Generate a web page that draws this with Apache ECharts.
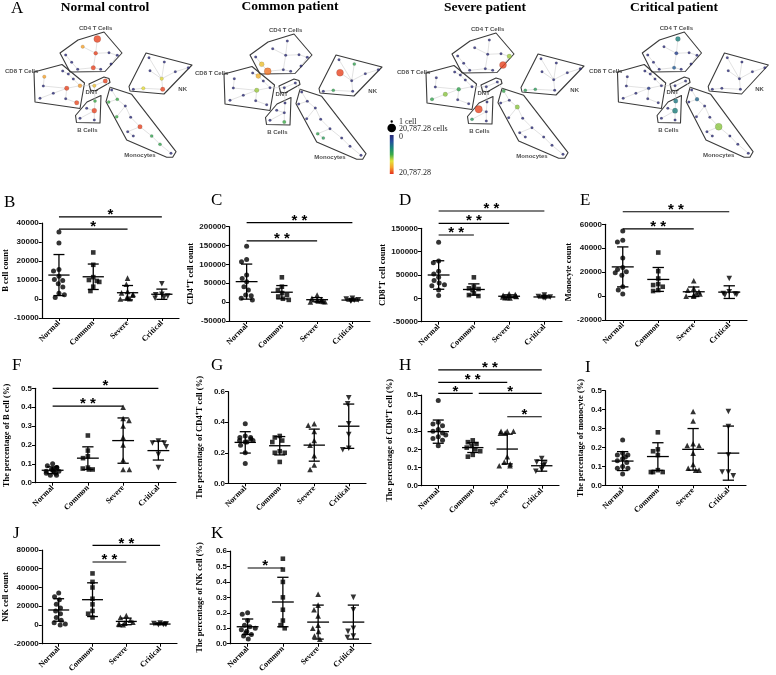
<!DOCTYPE html>
<html>
<head>
<meta charset="utf-8">
<script src="https://cdn.jsdelivr.net/npm/echarts@6.0.0/dist/echarts.min.js"></script>
<style>
html,body{margin:0;padding:0;background:#ffffff;}
#chart{width:776px;height:675px;}
</style>
</head>
<body>
<div id="chart"></div>
<script>
// ================= DATA =================
const groups = ['Normal', 'Common', 'Severe', 'Critical'];

// ---- Panel A : SPADE trees ----
const netTitles = ['Normal control', 'Common patient', 'Severe patient', 'Critical patient'];
const clusterNames = ['CD4 T Cells', 'CD8 T Cells', 'DNT', 'B Cells', 'NK', 'Monocytes'];
const nodeX = [97.3,82.7,95.7,65.7,71.7,77.7,93.3,109,117.3,111,100.7,
  44.3,62.7,68.3,73.3,43.3,66.7,80,53.3,40,65.7,76.7,
  94.3,105.3,
  95,86.7,94.3,80,94.3,
  149,164.3,150,175.3,188.3,161.7,133.3,143.3,162.7,
  111.7,117.3,108.7,125.3,116.7,130.7,140,127.7,133.3,151.7,160,171];
const nodeY = [39,46.7,53.3,55,62.3,69.3,67.7,52.7,55.3,64,69.3,
  76.7,71,74,79,86,88.3,85.7,93.3,98.3,98.7,102.7,
  85.7,81,
  101,108.3,110.7,118.3,120,
  57.7,62,70.7,71.7,67.7,78.7,89.3,88.3,89.3,
  90,99.3,102,106,116.7,117.3,126.7,131.7,136,136,144.3,153.3];
const treeEdges = [[0,2],[1,2],[2,6],[6,5],[5,4],[4,3],[2,7],[7,8],[8,9],[6,10],
  [12,13],[13,14],[14,17],[16,17],[16,15],[15,11],[16,18],[18,19],[16,20],[20,21],
  [22,23],[17,22],[22,24],[24,26],[26,25],[26,27],[26,28],
  [34,29],[34,30],[34,31],[34,32],[32,33],[34,37],[37,36],[36,35],
  [23,38],[38,39],[39,40],[39,41],[41,42],[41,43],[43,44],[44,45],[45,46],[44,47],[47,48],[48,49]];
const clusterHulls = [
  [[60,53],[78,40],[104,32],[122,53],[105,71.5],[70,72]],
  [[34,72],[62,64.5],[84.5,83],[80,108.5],[35,102]],
  [[89,84],[104,77],[109,78.5],[110,82.5],[95,91],[90.5,90]],
  [[101,95.5],[100,123],[76.5,122.5],[75.5,115.5],[87,102]],
  [[146,53],[192,65],[164,94],[130,91],[129,86.5]],
  [[110,87.3],[131.7,94.3],[176,151.7],[172.7,157.3],[166.7,157.3],[126.7,140],[106,101.7]]
];
const clusterLabelPos = [[95.7,28.3],[21.7,71],[91.7,92.7],[87.3,130],[182.7,89.3],[140,155]];
const maxCells = 20787.28;
// [node index, colour level, cell count] ; other nodes: level 0, 1 cell
const normalNodes = [[0,20160,9800],[1,17250,420],[2,20160,800],[6,20160,1800],[11,17250,420],[16,20160,1800],[17,17500,800],[21,20000,1800],[22,15600,420],[23,20160,1800],[24,10400,120],[26,20160,2800],[34,14200,420],[36,14200,420],[37,20160,1800],[39,10400,150],[40,10400,150],[42,10400,150],[44,20160,1800],[47,9800,150],[48,9800,150]];
const commonNodes = [[4,15600,2800],[5,18700,9800],[13,16500,2800],[16,12400,1800],[31,20160,9800],[30,9600,150],[36,9600,150],[28,10400,420],[45,9600,150],[46,9000,150]];
const severeNodes = [[8,12400,1800],[9,20160,9800],[16,9800,800],[18,12050,1800],[19,9800,420],[25,20160,11500],[27,8700,150],[35,9000,150],[36,9000,150],[38,10000,420],[41,12050,1800]];
const criticalNodes = [[0,6500,2800],[2,2100,420],[6,4200,420],[16,1500,150],[24,6000,1800],[26,6500,3500],[39,5000,800],[44,12050,9800]];
const netNodes = [normalNodes, commonNodes, severeNodes, criticalNodes];

// ---- Panel B : B cell count ----
const bPoints = [[35200,29500,15500,14800,12000,10300,9800,8000,6300,3000,2200,800],
  [24500,18000,11500,10000,9500,9000,6500,4200],
  [11000,7800,4000,3200,2500,2000,1200,600,200,0],
  [8000,2500,2200,1500,800,400]];
const bMean = [12600,11700,3300,2500];
const bSD = [10800,6700,3800,2700];
const bSig = [[0,3,43200,1],[0,2,36800,1]];
const bTicks = [-10000,40000,10000];
// ---- Panel C : CD4+T cell count ----
const cPoints = [[148000,113000,107000,72000,63000,54000,41000,32000,19000,17000,10000,6000],
  [65800,41000,32000,24000,19000,15000,9000,6000],
  [19000,10000,7000,5000,4000,3000,2000,1000,500],
  [10000,8000,6000,5000,4000,3000]];
const cMean = [54400,26300,6500,5500];
const cSD = [46500,17600,5500,2500];
const cSig = [[0,3,210600,2],[0,2,162200,2]];
const cTicks = [-50000,200000,50000];
// ---- Panel D : CD8+T cell count ----
const dPoints = [[120000,80000,76000,58000,52000,45000,38000,33000,29000,27000,18000,6000],
  [45000,25000,21500,20000,18000,10500,7000,5000],
  [10000,8000,6500,5000,4000,3000,2000,1500,1000],
  [7000,4000,3000,2000,1500,1000]];
const dMean = [50000,19000,4500,3000];
const dSD = [30500,12000,3000,2000];
const dSig = [[0,3,187000,2],[0,2,160700,2],[0,1,135600,2]];
const dTicks = [-50000,150000,50000];
// ---- Panel E : Monocyte count ----
const ePoints = [[54400,46700,45300,31900,23900,22200,20300,19400,17500,7800,5000,1700],
  [36400,20800,14700,10000,9200,7800,5000,4200],
  [12800,6400,5000,3600,2200,1700,800,0,0],
  [14700,3600,2200,1700,800,1400]];
const eMean = [24400,13900,3600,3300];
const eSD = [16700,10000,4000,5300];
const eSig = [[0,3,70500,2],[0,2,56100,2]];
const eTicks = [-20000,60000,20000];
// ---- Panel F : % B cell ----
const fPoints = [[0.10,0.09,0.08,0.08,0.07,0.07,0.06,0.06,0.06,0.05,0.05,0.04,0.04],
  [0.25,0.17,0.14,0.13,0.08,0.075,0.07,0.07],
  [0.40,0.34,0.33,0.30,0.24,0.20,0.12,0.07,0.07],
  [0.22,0.21,0.21,0.19,0.15,0.08]];
const fMean = [0.066,0.13,0.223,0.17];
const fSD = [0.018,0.06,0.12,0.05];
const fSig = [[0,3,0.5,1],[0,2,0.406,2]];
const fTicks = [0,0.5,0.1];
// ---- Panel G : % CD4+T cell ----
const gPoints = [[0.39,0.31,0.30,0.30,0.29,0.28,0.28,0.27,0.27,0.25,0.20,0.13],
  [0.31,0.30,0.28,0.27,0.21,0.20,0.20,0.14],
  [0.39,0.38,0.34,0.28,0.25,0.18,0.12,0.09],
  [0.56,0.52,0.39,0.32,0.23,0.22]];
const gMean = [0.268,0.246,0.25,0.374];
const gSD = [0.07,0.06,0.105,0.145];
const gSig = [];
const gTicks = [0,0.6,0.2];
// ---- Panel H : % CD8+T cell ----
const hPoints = [[0.47,0.35,0.34,0.33,0.31,0.30,0.29,0.28,0.27,0.26,0.25,0.22],
  [0.25,0.24,0.23,0.22,0.21,0.20,0.19,0.17,0.16],
  [0.30,0.30,0.30,0.29,0.29,0.16,0.13,0.12,0.11,0.11],
  [0.15,0.13,0.12,0.11,0.09,0.08]];
const hMean = [0.298,0.21,0.202,0.11];
const hSD = [0.064,0.027,0.082,0.03];
const hSig = [[0,3,0.638,2],[0,2,0.57,2],[0,1,0.509,1],[1,3,0.509,1],[2,3,0.38,1]];
const hTicks = [0,0.5,0.1];
// ---- Panel I : % monocyte ----
const iPoints = [[0.24,0.17,0.16,0.16,0.15,0.14,0.13,0.12,0.10,0.09,0.09,0.06],
  [0.28,0.19,0.18,0.16,0.08,0.07,0.07,0.07],
  [0.39,0.34,0.22,0.21,0.21,0.17,0.11,0.09,0.08,0.08],
  [0.39,0.31,0.16,0.07,0.07,0.05]];
const iMean = [0.128,0.152,0.19,0.17];
const iSD = [0.05,0.073,0.11,0.143];
const iSig = [];
const iTicks = [0,0.5,0.1];
// ---- Panel J : NK cell count ----
const jPoints = [[34000,30000,27000,22000,18000,15000,12000,8000,5000,2500,1000,0],
  [55000,46000,40000,28000,22000,15000,12000,8000],
  [10000,8000,5000,3000,2000,1000,500,200],
  [2000,1500,1000,800,500,300]];
const jMean = [16000,27000,3800,1000];
const jSD = [12000,18000,3500,700];
const jSig = [[1,3,84900,2],[1,2,67200,2]];
const jTicks = [-20000,80000,20000];
// ---- Panel K : % NK cell ----
const kPoints = [[0.20,0.19,0.15,0.12,0.11,0.10,0.09,0.08,0.07,0.06,0.05,0.03],
  [0.55,0.48,0.40,0.30,0.22,0.15,0.12,0.10],
  [0.32,0.25,0.22,0.18,0.12,0.10,0.08,0.05,0.03],
  [0.30,0.22,0.10,0.08,0.05,0.04]];
const kMean = [0.11,0.27,0.14,0.14];
const kSD = [0.05,0.16,0.11,0.11];
const kSig = [[0,1,0.49,1]];
const kTicks = [0,0.6,0.1];

// ================= LAYOUT / STYLE =================
const SERIF = '"Liberation Serif","Times New Roman",serif';
const SANS = '"Liberation Sans",Arial,sans-serif';
const heatColors = ['#2b2a78','#254f9c','#1a8578','#3bab48','#e3e33a','#f5a02a','#e5301f'];
const netOffsets = [[0,0],[190,2],[392,1],[585,0]];
const netTitlePos = [[105,8],[290,7],[485,8],[674,8]];

const panels = [
  {letter:'B', pts:bPoints, mean:bMean, sd:bSD, sig:bSig, ticks:bTicks, name:'B cell count', box:[38,223,141,95], gap:26, lpos:[4,194], pct:false},
  {letter:'C', pts:cPoints, mean:cMean, sd:cSD, sig:cSig, ticks:cTicks, name:'CD4\u207AT cell count', box:[229,226.7,141,94.3], gap:33, lpos:[211,192], pct:false},
  {letter:'D', pts:dPoints, mean:dMean, sd:dSD, sig:dSig, ticks:dTicks, name:'CD8\u207AT cell count', box:[421,228.3,141,93.4], gap:31, lpos:[399,192], pct:false},
  {letter:'E', pts:ePoints, mean:eMean, sd:eSD, sig:eSig, ticks:eTicks, name:'Monocyte count', box:[605,224.3,142,95.7], gap:24, lpos:[580,192], pct:false},
  {letter:'F', pts:fPoints, mean:fMean, sd:fSD, sig:fSig, ticks:fTicks, name:'The percentage of B cell (%)', box:[35,388.3,141,94.4], gap:24, lpos:[12,357], pct:true},
  {letter:'G', pts:gPoints, mean:gMean, sd:gSD, sig:gSig, ticks:gTicks, name:'The percentage of CD4\u207AT cell (%)', box:[228,391.7,138,91.6], gap:24, lpos:[211,357], pct:true},
  {letter:'H', pts:hPoints, mean:hMean, sd:hSD, sig:hSig, ticks:hTicks, name:'The percentage of CD8\u207AT cell (%)', box:[421,395,138,90.7], gap:27, lpos:[399,357], pct:true},
  {letter:'I', pts:iPoints, mean:iMean, sd:iSD, sig:iSig, ticks:iTicks, name:'The percentage of monocyte (%)', box:[605,390.7,141,94.6], gap:20, lpos:[585,359], pct:true},
  {letter:'J', pts:jPoints, mean:jMean, sd:jSD, sig:jSig, ticks:jTicks, name:'NK cell count', box:[36,550,141,119], gap:23, lpos:[13,525], pct:false},
  {letter:'K', pts:kPoints, mean:kMean, sd:kSD, sig:kSig, ticks:kTicks, name:'The percentage of NK cell (%)', box:[230,551,141,117], gap:26, lpos:[211,525], pct:true}
];
const SHAPES = ['circle','rect','triangle','triangle'];
const ROTS = [0,0,0,180];
const SIZES = [5,4.6,5.6,5.6];

// ================= BUILD =================
const grid = [], xAxis = [], yAxis = [], series = [], graphic = [];
const nodeSeriesIdx = [];

netOffsets.forEach((o, p) => {
  grid.push({left:o[0], top:o[1], width:200, height:190});
  xAxis.push({gridIndex:p, type:'value', min:0, max:200, show:false});
  yAxis.push({gridIndex:p, type:'value', min:0, max:190, inverse:true, show:false});
  series.push({
    type:'custom', xAxisIndex:p, yAxisIndex:p, silent:true, z:1,
    data: clusterHulls.map((h, i) => [i]),
    renderItem: (params, api) => {
      const pts = clusterHulls[api.value(0)].map(q => api.coord(q));
      return {type:'polygon', shape:{points:pts}, style:{fill:'none', stroke:'#3a3a3a', lineWidth:1.1, lineJoin:'round'}};
    }
  });
  series.push({
    type:'custom', xAxisIndex:p, yAxisIndex:p, silent:true, z:2,
    data: treeEdges.map(e => [e[0], e[1]]),
    renderItem: (params, api) => {
      const a = api.value(0), b = api.value(1);
      const pa = api.coord([nodeX[a], nodeY[a]]), pb = api.coord([nodeX[b], nodeY[b]]);
      return {type:'line', shape:{x1:pa[0], y1:pa[1], x2:pb[0], y2:pb[1]}, style:{stroke:'#cfcfcf', lineWidth:0.6}};
    }
  });
  const lv = nodeX.map(() => 0), cnt = nodeX.map(() => 1);
  netNodes[p].forEach(n => { lv[n[0]] = n[1]; cnt[n[0]] = n[2]; });
  nodeSeriesIdx.push(series.length);
  series.push({
    type:'scatter', xAxisIndex:p, yAxisIndex:p, silent:true, z:3,
    data: nodeX.map((x, i) => [x, nodeY[i], lv[i], cnt[i]]),
    symbolSize: v => 2.6 + 6.4 * Math.sqrt(v[3] / maxCells),
    itemStyle:{borderColor:'rgba(0,0,0,0.35)', borderWidth:0.4}
  });
  series.push({
    type:'scatter', xAxisIndex:p, yAxisIndex:p, silent:true, z:4, symbolSize:0,
    data: clusterLabelPos.map(q => q),
    label:{show:true, position:'inside', formatter: prm => clusterNames[prm.dataIndex],
      fontFamily:SANS, fontWeight:'bold', fontSize:6, color:'#222'}
  });
  graphic.push({type:'text', x:netTitlePos[p][0], y:netTitlePos[p][1],
    style:{text:netTitles[p], font:'bold 13.5px ' + SERIF, fill:'#000', align:'center', verticalAlign:'middle'}});
});
graphic.push({type:'text', x:11, y:0, style:{text:'A', font:'17px ' + SERIF, fill:'#000'}});

// legend of panel A
graphic.push({type:'circle', shape:{cx:391.7, cy:121.5, r:1.2}, style:{fill:'#000'}});
graphic.push({type:'text', x:399, y:121.5, style:{text:'1 cell', font:'8px ' + SERIF, fill:'#222', verticalAlign:'middle'}});
graphic.push({type:'circle', shape:{cx:391.7, cy:128, r:4.3}, style:{fill:'#000'}});
graphic.push({type:'text', x:399, y:128.5, style:{text:maxCells.toLocaleString('en-US') + ' cells', font:'8px ' + SERIF, fill:'#222', verticalAlign:'middle'}});
graphic.push({type:'rect', shape:{x:389.8, y:135, width:3.8, height:39},
  style:{fill:{type:'linear', x:0, y:0, x2:0, y2:1,
    colorStops: heatColors.map((c, i) => ({offset:i / (heatColors.length - 1), color:c}))}}});
graphic.push({type:'text', x:399, y:137, style:{text:'0', font:'8px ' + SERIF, fill:'#222', verticalAlign:'middle'}});
graphic.push({type:'text', x:399, y:173, style:{text:maxCells.toLocaleString('en-US'), font:'8px ' + SERIF, fill:'#222', verticalAlign:'middle'}});

panels.forEach((P, k) => {
  const gi = 4 + k;
  grid.push({left:P.box[0], top:P.box[1], width:P.box[2], height:P.box[3]});
  xAxis.push({
    gridIndex:gi, type:'category', data:groups, boundaryGap:true,
    jitter:16, jitterOverlap:false, jitterMargin:0.6,
    axisLine:{onZero:false, lineStyle:{color:'#000', width:1.2}},
    axisTick:{show:true, alignWithLabel:true, length:3, lineStyle:{color:'#000', width:1}},
    axisLabel:{interval:0, rotate:45, margin:4, fontFamily:SERIF, fontWeight:'bold', fontSize:8, color:'#000'},
    splitLine:{show:false}
  });
  yAxis.push({
    gridIndex:gi, type:'value', min:P.ticks[0], max:P.ticks[1], interval:P.ticks[2],
    axisLine:{show:true, lineStyle:{color:'#000', width:1.2}},
    axisTick:{show:true, length:3, lineStyle:{color:'#000', width:1}},
    axisLabel:{margin:3, fontFamily:SANS, fontWeight:'bold', fontSize:8, color:'#111',
      formatter: v => P.pct ? v.toFixed(1) : String(v)},
    splitLine:{show:false},
    name:P.name, nameLocation:'middle', nameGap:P.gap,
    nameTextStyle:{fontFamily:SERIF, fontWeight:'bold', fontSize:8.5, color:'#000'}
  });
  P.pts.forEach((arr, g) => {
    series.push({
      type:'scatter', xAxisIndex:gi, yAxisIndex:gi, z:3, silent:true,
      symbol:SHAPES[g], symbolRotate:ROTS[g], symbolSize:SIZES[g],
      itemStyle:{color:'#000'},
      data: arr.map(v => [g, v])
    });
  });
  series.push({
    type:'custom', xAxisIndex:gi, yAxisIndex:gi, z:5, silent:true,
    data: P.mean.map((m, g) => [g, m, P.sd[g]]),
    renderItem: (params, api) => {
      const g = api.value(0), m = api.value(1), s = api.value(2);
      const c = api.coord([g, m]), t = api.coord([g, m + s]), b = api.coord([g, m - s]);
      const band = api.size([1, 0])[0];
      const hw = band * 0.31, cw = band * 0.16;
      const st = {stroke:'#000', lineWidth:1.3};
      return {type:'group', children:[
        {type:'line', shape:{x1:c[0]-hw, y1:c[1], x2:c[0]+hw, y2:c[1]}, style:st},
        {type:'line', shape:{x1:c[0], y1:t[1], x2:c[0], y2:b[1]}, style:st},
        {type:'line', shape:{x1:c[0]-cw, y1:t[1], x2:c[0]+cw, y2:t[1]}, style:st},
        {type:'line', shape:{x1:c[0]-cw, y1:b[1], x2:c[0]+cw, y2:b[1]}, style:st}
      ]};
    }
  });
  if (P.sig.length) {
    series.push({
      type:'custom', xAxisIndex:gi, yAxisIndex:gi, z:5, silent:true, clip:false,
      data: P.sig.map(s => s.slice()),
      renderItem: (params, api) => {
        const x1 = api.value(0), x2 = api.value(1), yv = api.value(2), n = api.value(3);
        const a = api.coord([x1, yv]), b = api.coord([x2, yv]);
        let sx = a[0];
        if (P.sig.some(s => s[1] === x1 && Math.abs(s[2] - yv) < 1e-9)) sx += 6;
        return {type:'group', children:[
          {type:'line', shape:{x1:sx, y1:a[1], x2:b[0], y2:b[1]}, style:{stroke:'#000', lineWidth:1.2}},
          {type:'text', style:{text: n === 2 ? '* *' : '*', x:(sx + b[0]) / 2, y:a[1] - 2,
            align:'center', verticalAlign:'middle', font:'bold 15px ' + SANS, fill:'#000'}}
        ]};
      }
    });
  }
  graphic.push({type:'text', x:P.lpos[0], y:P.lpos[1], style:{text:P.letter, font:'17px ' + SERIF, fill:'#000'}});
});

const chart = echarts.init(document.getElementById('chart'), null, {renderer:'canvas'});
chart.setOption({
  animation:false,
  backgroundColor:'#ffffff',
  grid, xAxis, yAxis, series, graphic,
  visualMap:[{type:'continuous', show:false, min:0, max:maxCells, dimension:2,
    seriesIndex:nodeSeriesIdx, inRange:{color:heatColors}}]
});
</script>
</body>
</html>
